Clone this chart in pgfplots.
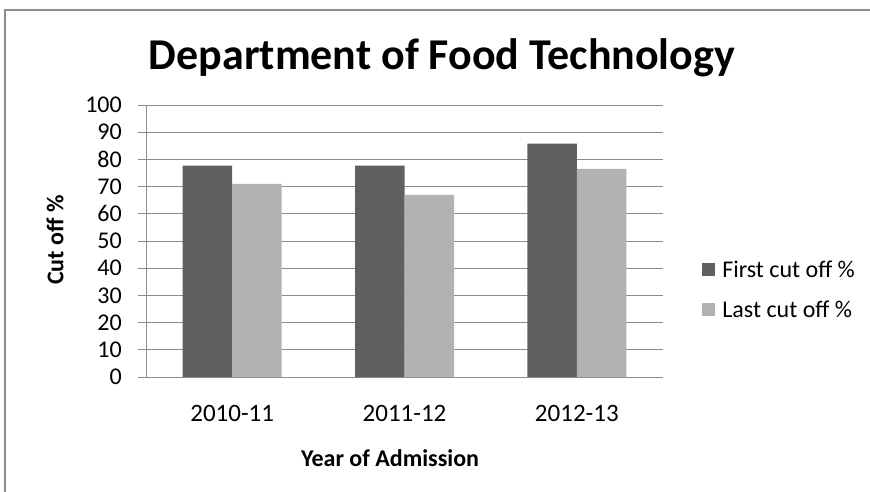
\documentclass[border=0pt]{standalone}
\usepackage{fontspec}
\setmainfont{Carlito}
\usepackage{pgfplots}
\pgfplotsset{compat=1.18}
\definecolor{firstc}{HTML}{606060}
\definecolor{lastc}{HTML}{B2B2B2}
\definecolor{gridc}{HTML}{8C8C8C}
\begin{document}
\begin{tikzpicture}
\path[use as bounding box] (0pt,0pt) rectangle (870pt,491pt);
\draw[gridc, line width=1.2pt] (5pt,-2pt) -- (5pt,481pt) -- (872pt,481pt);
\begin{axis}[
  at={(146pt,114pt)}, anchor=south west,
  scale only axis, width=517pt, height=272pt,
  xmin=-0.5, xmax=2.5, ymin=0, ymax=100,
  ytick={0,10,...,100},
  xtick={0,1,2}, xticklabels={2010-11,2011-12,2012-13},
  axis x line*=bottom, axis y line*=left,
  axis line style={gridc, line width=1pt, -},
  ymajorgrids, grid style={gridc, line width=1pt},
  xtick style={draw=none},
  ytick style={gridc, line width=1pt},
  tick align=outside, major tick length=8pt,
  /pgf/number format/assume math mode=true,
  ticklabel style={font=\fontsize{24}{28}\selectfont, text=black},
  yticklabel style={anchor=east, inner sep=0pt, xshift=-16pt},
  xticklabel style={anchor=center, inner sep=0pt, yshift=-28pt, font=\fontsize{25}{29}\selectfont},
  ybar=0pt, bar width=49.5pt,
  xlabel={Year of Admission},
  ylabel={Cut off \%},
  label style={font=\fontsize{24}{28}\selectfont\bfseries},
  xlabel style={at={(axis description cs:0.472,-0.298)}, anchor=center},
  ylabel style={at={(axis description cs:-0.176,0.504)}, anchor=center, rotate=0},
  legend style={draw=none, fill=none, at={(axis description cs:1.07,0.32)}, anchor=west,
    font=\fontsize{24}{28}\selectfont, row sep=21pt,
    nodes={inner sep=0pt, anchor=west}},
  legend cell align=left,
  legend image code/.code={\fill[#1] (0pt,-6pt) rectangle (13pt,7pt);},
  clip=false,
]
\addplot[draw=none, fill=firstc] coordinates {(0,77.7) (1,77.7) (2,85.8)};
\addplot[draw=none, fill=lastc] coordinates {(0,71.0) (1,67.0) (2,76.5)};
\legend{\hspace{7pt}First cut off \%, \hspace{7pt}Last cut off \%}
\node[font=\fontsize{44}{52}\selectfont\bfseries, anchor=center] at (axis description cs:0.5725,1.173) {Department of Food Technology};
\end{axis}
\end{tikzpicture}
\end{document}
